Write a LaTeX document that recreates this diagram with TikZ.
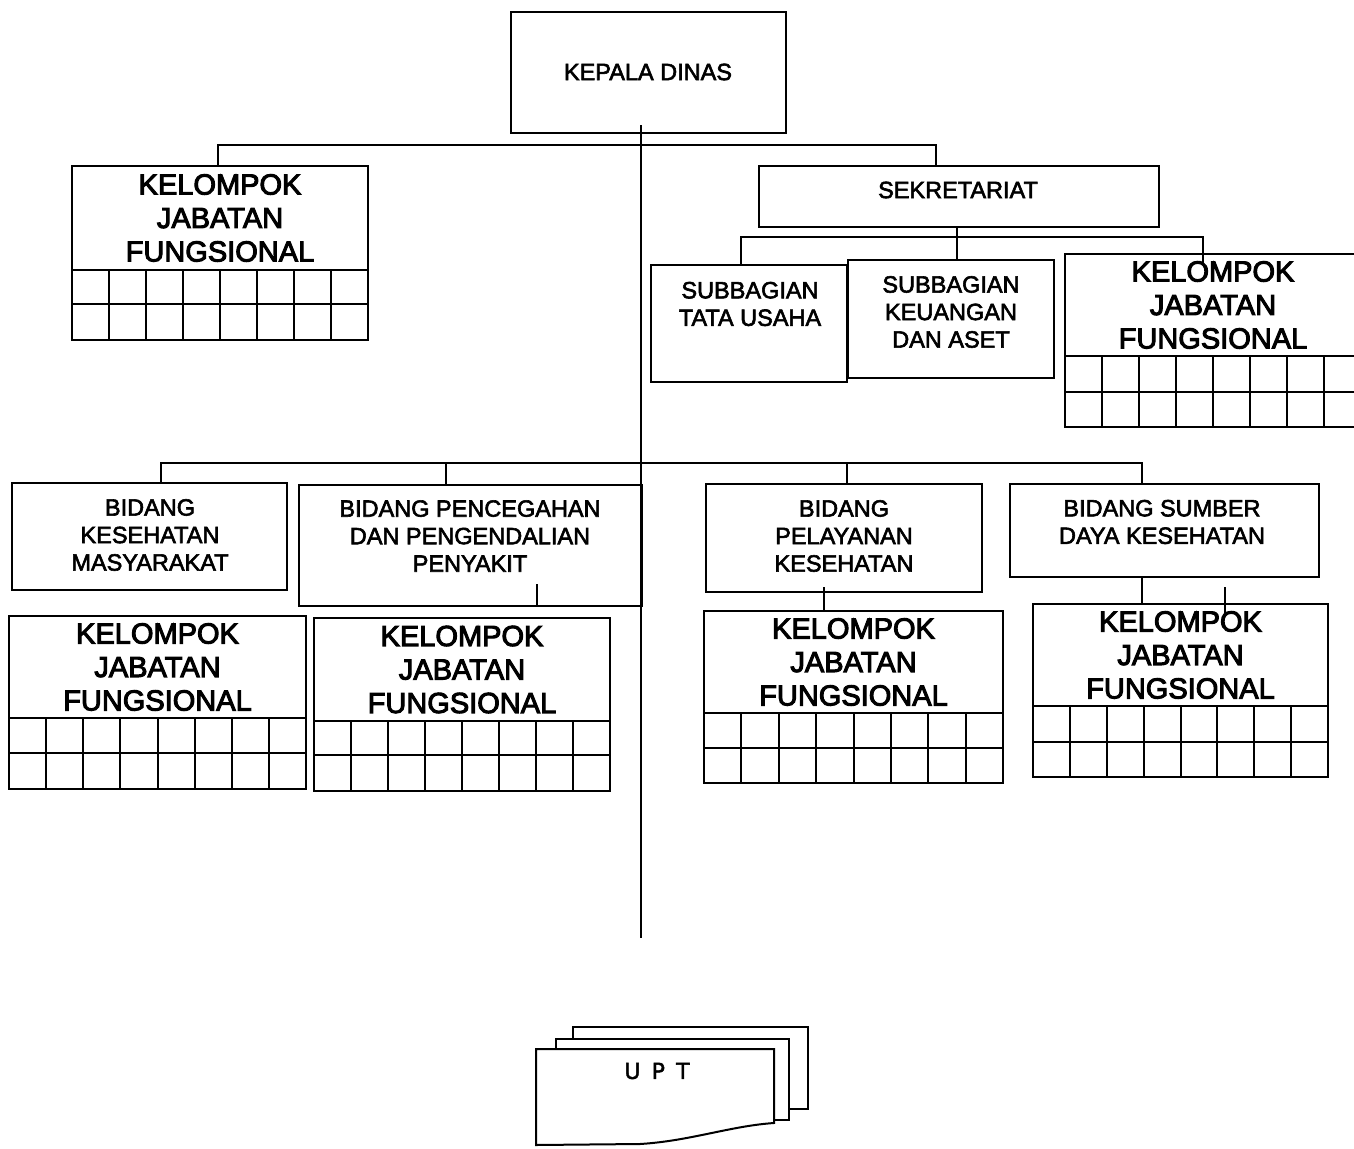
\documentclass[tikz,border=0pt]{standalone}
\usepackage{fontspec}
\setmainfont{Liberation Sans}
\newfontfamily\scanfont{Liberation Sans}[FakeBold=2.5]
\newfontfamily\kscanfont{Liberation Sans}[FakeBold=3.5]
\newfontfamily\uptfont{DejaVu Sans}[WordSpace=1.6,FakeBold=2]
\newcommand\pbox[5]{\node[box, minimum width={(#4-#2)*1pt}, minimum height={(#5-#3)*1pt}] (#1) at (#2,#3) {};}
\newcommand\kjfgrid[7]{%
  \node[box, minimum width={#4*1pt}, minimum height={(#7-#3)*1pt}] (#1) at (#2,#3) {};
  \draw[ln] (#2,#5) -- ++(#4,0);
  \draw[ln] (#2,#6) -- ++(#4,0);
  \foreach \k in {1,...,7} \draw[ln] ({#2+\k*#4/8},#5) -- ({#2+\k*#4/8},#7);
  \node[klbl] (#1t) at ({#2+#4/2},{(#3+#5)/2}) {KELOMPOK\\JABATAN\\FUNGSIONAL};
}
\begin{document}
\begin{tikzpicture}[x=1pt,y=-1pt,
  ln/.style={line width=2pt},
  box/.style={draw, line width=2pt, rectangle, inner sep=0pt, outer sep=0pt, anchor=north west},
  lbl/.style={align=center, font=\scanfont\fontsize{23.5}{27.5}\selectfont, inner sep=0pt},
  klbl/.style={align=center, font=\kscanfont\fontsize{29}{33.5}\selectfont, inner sep=0pt}]
\clip (0,0) rectangle (1354,1148);
\fill[white] (0,0) rectangle (1354,1148);

% boxes
\pbox{kd}{511}{12}{786}{133}
\node[lbl] (kdt) at (648,72) {KEPALA DINAS};
\pbox{sek}{759}{166}{1159}{227}
\node[lbl] (sekt) at (958,190) {SEKRETARIAT};
\pbox{stu}{651}{265}{847}{382}
\node[lbl] (stut) at (750,304) {SUBBAGIAN\\TATA USAHA};
\pbox{ska}{848}{260}{1054}{378}
\node[lbl] (skat) at (951,312) {SUBBAGIAN\\KEUANGAN\\DAN ASET};
\pbox{bkm}{12}{483}{287}{590}
\node[lbl] (bkmt) at (150,535) {BIDANG\\KESEHATAN\\MASYARAKAT};
\pbox{bpp}{299}{485}{642}{606}
\node[lbl] (bppt) at (470,536) {BIDANG PENCEGAHAN\\DAN PENGENDALIAN\\PENYAKIT};
\pbox{bpk}{706}{484}{982}{592}
\node[lbl] (bpkt) at (844,536) {BIDANG\\PELAYANAN\\KESEHATAN};
\pbox{bsd}{1010}{484}{1319}{577}
\node[lbl] (bsdt) at (1162,522) {BIDANG SUMBER\\DAYA KESEHATAN};

% functional groups
\kjfgrid{kjfA}{72}{166}{296}{270}{304}{340}
\kjfgrid{kjfB}{1065}{254}{296}{356}{392}{427}
\kjfgrid{kjfC}{9}{616}{297}{718}{753}{789}
\kjfgrid{kjfD}{314}{618}{296}{721}{755}{791}
\kjfgrid{kjfE}{704}{611}{299}{713}{748}{783}
\kjfgrid{kjfF}{1033}{604}{295}{706}{742}{777}

% main line
\coordinate (mtop) at (641,125);
\coordinate (mbot) at (641,938);
\draw[ln] (mtop) -- (mbot);

% bus 1
\coordinate (b1L) at (218,145);
\coordinate (b1R) at (936,145);
\draw[ln] (b1L |- kjfA.north) -- (b1L) -- (b1R) -- (b1R |- sek.north);

% bus 2
\coordinate (b2L) at (741,237);
\coordinate (b2R) at (1203,237);
\coordinate (b2in) at (1203,263);
\coordinate (s2) at (957,0);
\draw[ln] (b2L |- stu.north) -- (b2L) -- (b2R) -- (b2in);
\draw[ln] (sek.south -| s2) -- (ska.north -| s2);

% bus 3
\coordinate (b3L) at (161,463);
\coordinate (b3R) at (1142,463);
\coordinate (d2) at (446,463);
\coordinate (d3) at (847,463);
\draw[ln] (b3L |- bkm.north) -- (b3L) -- (b3R) -- (b3R |- bsd.north);
\draw[ln] (d2) -- (d2 |- bpp.north);
\draw[ln] (d3) -- (d3 |- bpk.north);

% lower links
\coordinate (e1) at (824,587);
\draw[ln] (e1) -- (e1 |- kjfE.north);
\coordinate (f1) at (1142,577);
\draw[ln] (f1) -- (f1 |- kjfF.north);
\coordinate (f2a) at (1225,587);
\coordinate (f2b) at (1225,613);
\draw[ln] (f2a) -- (f2b);
\coordinate (p1) at (537,584);
\draw[ln] (p1) -- (p1 |- bpp.south);

% UPT
\draw[ln] (573,1039) -- (573,1027) -- (808,1027) -- (808,1109) -- (789,1109);
\draw[ln] (556,1049) -- (556,1039) -- (789,1039) -- (789,1120) -- (774,1120);
\draw[ln, fill=white] (536,1049) -- (774,1049) -- (774,1123) .. controls (730,1126) and (690,1141) .. (640,1144) -- (536,1145) -- cycle;
\node[font=\uptfont\fontsize{22}{24}\selectfont, inner sep=0pt] (upt) at (657,1071) {U P T};
\end{tikzpicture}
\end{document}
